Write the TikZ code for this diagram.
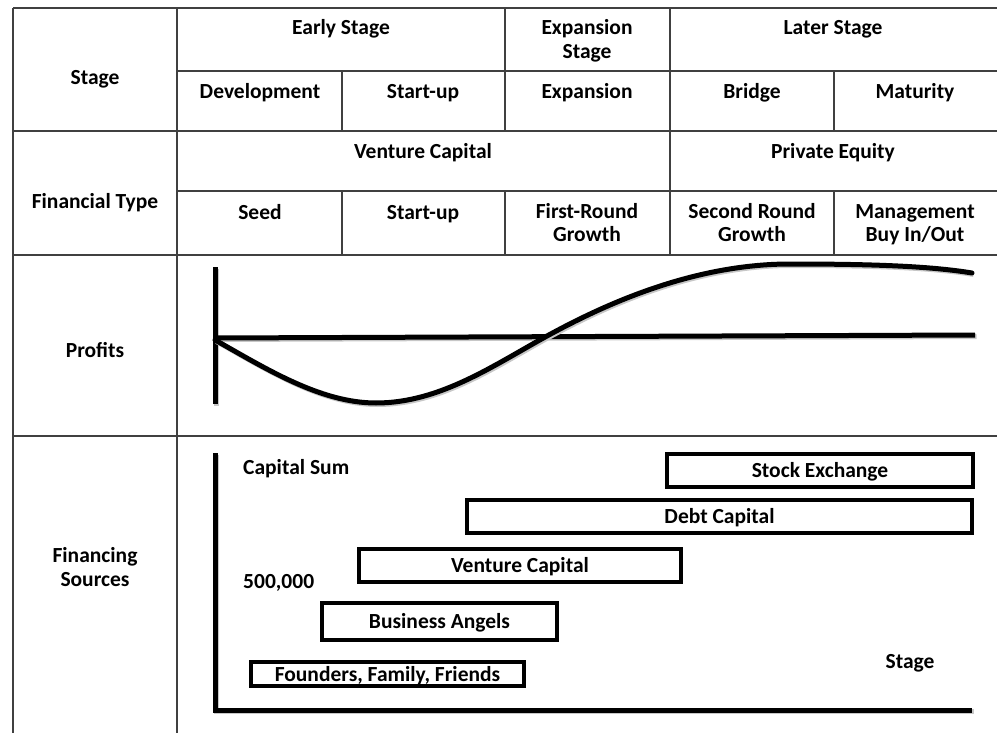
\documentclass[tikz,border=0pt]{standalone}
\usepackage{fontspec}
\setmainfont{Carlito}
\begin{document}
\begin{tikzpicture}[x=1pt,y=-1pt,
  grid/.style={draw=black!75, line width=1.6pt},
  lbl/.style={font=\fontsize{21.5}{24}\selectfont\bfseries, inner sep=0pt, anchor=base, align=center},
  shade/.style={preaction={draw=black!22, line width=#1, transform canvas={shift={(1.5pt,-1.5pt)}}}},
  heavy/.style={line width=5pt, shade=5pt},
  srcbox/.style={draw, line width=4pt, inner sep=0pt, minimum width=#1,
    text height=14pt, text depth=0pt,
    font=\fontsize{21.5}{24}\selectfont\bfseries}
]
\useasboundingbox (0,0) rectangle (997,733);

% ---------- table grid ----------
\draw[grid] (13,8) -- (997,8);
\draw[grid] (177,71) -- (997,71);
\draw[grid] (13,131) -- (997,131);
\draw[grid] (177,191) -- (997,191);
\draw[grid] (13,255) -- (997,255);
\draw[grid] (13,436) -- (997,436);
\draw[grid] (13,8) -- (13,733);
\draw[grid] (177,8) -- (177,733);
\draw[grid] (342,71) -- (342,131) (342,191) -- (342,255);
\draw[grid] (505,8) -- (505,131) (505,191) -- (505,255);
\draw[grid] (670,8) -- (670,255);
\draw[grid] (834,71) -- (834,131) (834,191) -- (834,255);

% ---------- row heads ----------
\node[lbl] (stage) at (95,85) {Stage};
\node[lbl] (fintype) at (95,208) {Financial Type};
\node[lbl] (profits) at (95,357) {Profits};
\node[lbl] (finsrc) at (95,586) {Financing\\Sources};

% ---------- stage row ----------
\node[lbl] (early) at (341,35) {Early Stage};
\node[lbl] (expst) at (587,59) {Expansion\\Stage};
\node[lbl] (later) at (833,35) {Later Stage};
\node[lbl] (dev) at (260,99) {Development};
\node[lbl] (su1) at (423,99) {Start-up};
\node[lbl] (exp) at (587,99) {Expansion};
\node[lbl] (bridge) at (752,99) {Bridge};
\node[lbl] (mat) at (915,99) {Maturity};

% ---------- financial type row ----------
\node[lbl] (vcap) at (423,159) {Venture Capital};
\node[lbl] (pe) at (833,159) {Private Equity};
\node[lbl] (seed) at (260,220) {Seed};
\node[lbl] (su2) at (423,220) {Start-up};
\node[lbl] (frg) at (587,242) {First-Round\\Growth};
\node[lbl] (srg) at (752,242) {Second Round\\Growth};
\node[lbl] (mbo) at (915,242) {Management\\Buy In/Out};

% ---------- profits chart ----------
\draw[heavy] (215,267) -- (215,404);
\draw[heavy] (215,338) -- (975,335);
\draw[heavy, line cap=round] (215,340) .. controls (265,368) and (320,403) .. (376,403)
  .. controls (440,403) and (494,365) .. (547,336)
  .. controls (600,307) and (690,264) .. (790,264)
  .. controls (870,264) and (930,266) .. (972,273);

% ---------- financing sources ----------
\draw[heavy, line join=miter] (215,453) -- (215,710) -- (972,710);
\node[lbl, anchor=base west] (capsum) at (243,474) {Capital Sum};
\node[lbl, anchor=base west] (fivek) at (243,588) {500,000};
\node[lbl] (stagex) at (910,668) {Stage};

\node[srcbox=306pt, minimum height=33pt] (se) at (820,470.5) {Stock Exchange};
\node[srcbox=505pt, minimum height=33pt] (dc) at (719.5,516.5) {Debt Capital};
\node[srcbox=322pt, minimum height=33pt] (vc) at (520,565.5) {Venture Capital};
\node[srcbox=235pt, minimum height=37pt] (ba) at (439.5,621.5) {Business Angels};
\node[srcbox=273pt, minimum height=24pt] (fff) at (387.5,674) {Founders, Family, Friends};
\end{tikzpicture}
\end{document}
